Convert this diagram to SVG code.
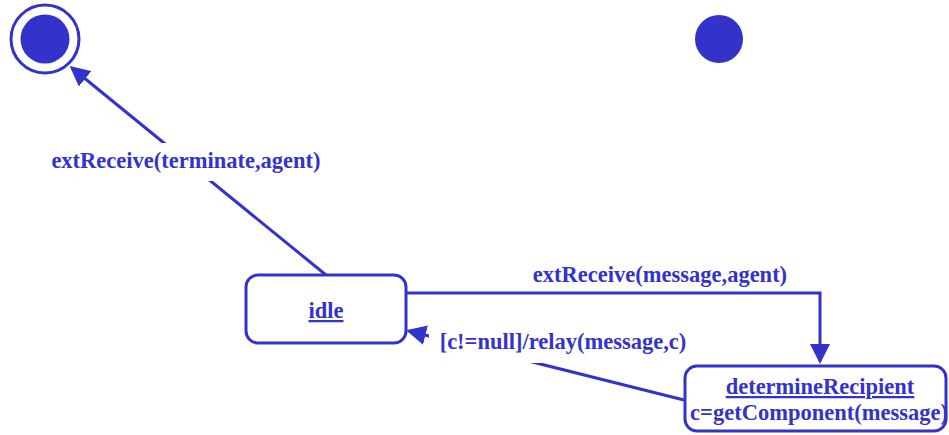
<svg xmlns="http://www.w3.org/2000/svg" width="949" height="435" viewBox="0 0 949 435">
  <style>
    .line { fill: none; stroke: #3333cc; stroke-width: 3; }
    .state { fill: #ffffff; stroke: #3333cc; stroke-width: 3; }
    .dot { fill: #3333cc; }
    .txt { font-family: "Liberation Serif", "Times New Roman", serif; font-weight: bold; font-size: 22.5px; fill: #3333cc; text-anchor: middle; }
    .name { text-decoration: underline; }
    .bg { fill: #ffffff; }
  </style>
  <defs>
    <marker id="arrow" markerUnits="userSpaceOnUse" markerWidth="20" markerHeight="20" refX="17" refY="10" orient="auto">
      <path d="M0,0 L20,10 L0,20 z" fill="#3333cc"/>
    </marker>
  </defs>

  <!-- transitions -->
  <g id="connectors">
    <path class="line" d="M326,275 L72,68" marker-end="url(#arrow)"/>
    <path class="line" d="M406,293 L820,293 L820,361" marker-end="url(#arrow)"/>
    <path class="line" d="M684,400 L409,331" marker-end="url(#arrow)"/>
  </g>

  <!-- transition labels (white backing masks the line behind the text) -->
  <g id="label-terminate">
    <rect class="bg" x="50" y="143" width="274" height="38"/>
    <text class="txt" x="186" y="168">extReceive(terminate,agent)</text>
  </g>
  <g id="label-message">
    <text class="txt" x="660" y="282">extReceive(message,agent)</text>
  </g>
  <g id="label-relay">
    <rect class="bg" x="429" y="327" width="260" height="36"/>
    <text class="txt" x="563" y="349">[c!=null]/relay(message,c)</text>
  </g>

  <!-- final state -->
  <g id="final">
    <circle class="line" cx="45" cy="39" r="34"/>
    <circle class="dot" cx="45" cy="39" r="24.5"/>
  </g>

  <!-- initial state -->
  <g id="initial">
    <circle class="dot" cx="719" cy="39" r="24"/>
  </g>

  <!-- idle -->
  <g id="idle">
    <rect class="state" x="246" y="275" width="160" height="68" rx="12" ry="12"/>
    <text class="txt name" x="326" y="318">idle</text>
  </g>

  <!-- determineRecipient -->
  <g id="determineRecipient">
    <rect class="state" x="685" y="366" width="261" height="65" rx="12" ry="12"/>
    <text class="txt name" x="820" y="394">determineRecipient</text>
    <text class="txt" x="819" y="420">c=getComponent(message)</text>
  </g>
</svg>
